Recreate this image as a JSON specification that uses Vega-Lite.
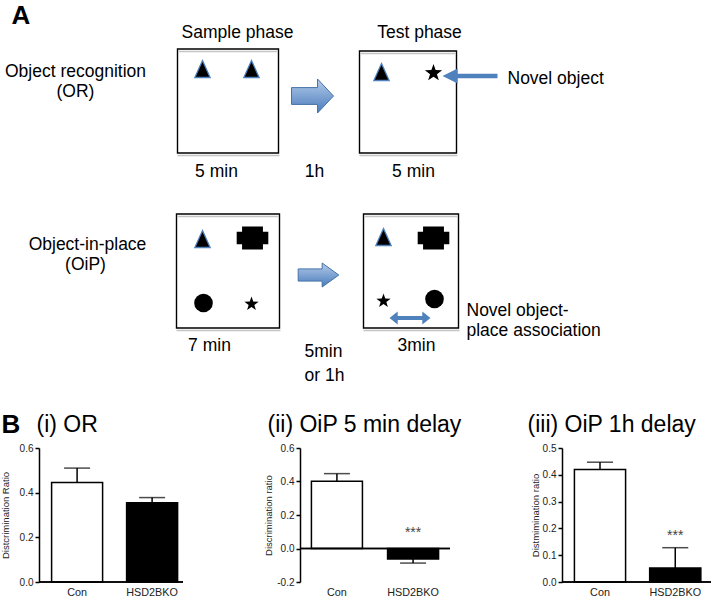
{
  "$schema": "https://vega.github.io/schema/vega-lite/v6.json",
  "padding": 0,
  "background": "white",
  "spacing": 0,
  "align": "none",
  "bounds": "full",
  "config": {
    "font": "Liberation Sans",
    "view": {"stroke": null},
    "axis": {
      "domainColor": "black", "domainWidth": 1.5, "tickColor": "black", "tickWidth": 1.5,
      "labelColor": "#222", "labelFontSize": 10, "labelFont": "Liberation Sans", "labelOverlap": false,
      "titleFontSize": 9.5, "titleFontWeight": "normal", "titleColor": "#222", "titleFont": "Liberation Sans",
      "grid": false
    },
    "axisX": {"labelFontSize": 10.8}
  },
  "datasets": {
    "boxes": [
      {"x": 177, "x2": 278, "y": 49, "y2": 153},
      {"x": 359, "x2": 456, "y": 51, "y2": 153},
      {"x": 176, "x2": 279, "y": 214, "y2": 328},
      {"x": 363, "x2": 458, "y": 214, "y2": 328}
    ],
    "shadows": [
      {"x": 178, "x2": 277, "y": 51.5},
      {"x": 177, "x2": 279, "y": 155.5},
      {"x": 360, "x2": 455, "y": 53.5},
      {"x": 359, "x2": 457, "y": 155.5},
      {"x": 177, "x2": 278, "y": 216.5},
      {"x": 176, "x2": 280, "y": 330.5},
      {"x": 364, "x2": 457, "y": 216.5},
      {"x": 363, "x2": 459, "y": 330.5}
    ],
    "objects": [
      {"obj": "triangle", "x": 202, "y": 69},
      {"obj": "triangle", "x": 251, "y": 69},
      {"obj": "triangle", "x": 381, "y": 72},
      {"obj": "triangle", "x": 202, "y": 239},
      {"obj": "triangle", "x": 383, "y": 237},
      {"obj": "star", "x": 433, "y": 73},
      {"obj": "starSmall", "x": 251, "y": 304},
      {"obj": "starSmall", "x": 383, "y": 301},
      {"obj": "cross", "x": 252, "y": 238},
      {"obj": "cross", "x": 433, "y": 238},
      {"obj": "circle", "x": 203, "y": 303},
      {"obj": "circle", "x": 434, "y": 299},
      {"obj": "doubleArrow", "x": 409.5, "y": 318},
      {"obj": "lineArrow", "x": 469.5, "y": 76},
      {"obj": "blockArrow1", "x": 312, "y": 96},
      {"obj": "blockArrow2", "x": 318, "y": 275}
    ],
    "centerTexts": [
      {"t": "Sample phase", "x": 237, "y": 37.5},
      {"t": "Test phase", "x": 419, "y": 38},
      {"t": "Object recognition", "x": 75, "y": 76.5},
      {"t": "(OR)", "x": 75, "y": 97},
      {"t": "5 min", "x": 216, "y": 177},
      {"t": "1h", "x": 314, "y": 177},
      {"t": "5 min", "x": 413, "y": 177},
      {"t": "Object-in-place", "x": 87, "y": 250},
      {"t": "(OiP)", "x": 85, "y": 270},
      {"t": "7 min", "x": 209, "y": 351},
      {"t": "5min", "x": 323, "y": 357},
      {"t": "or 1h", "x": 324, "y": 381},
      {"t": "3min", "x": 416, "y": 351}
    ],
    "leftTexts": [
      {"t": "Novel object", "x": 507, "y": 84},
      {"t": "Novel object-", "x": 466, "y": 316},
      {"t": "place association", "x": 466, "y": 336}
    ],
    "letters": [
      {"t": "A", "x": 11, "y": 24},
      {"t": "B", "x": 1, "y": 433}
    ],
    "panelTitles": [
      {"t": "(i)  OR", "x": 36, "y": 432},
      {"t": "(ii)  OiP 5 min delay", "x": 267, "y": 432},
      {"t": "(iii)  OiP 1h delay", "x": 527, "y": 432}
    ]
  },
  "vconcat": [
    {
      "width": 675.5,
      "height": 443,
      "encoding": {
        "x": {"field": "x", "type": "quantitative", "scale": {"domain": [38.5, 714], "nice": false, "zero": false}, "axis": null},
        "y": {"field": "y", "type": "quantitative", "scale": {"domain": [0, 443], "reverse": true, "nice": false, "zero": false}, "axis": null}
      },
      "layer": [
        {
          "data": {"name": "boxes"},
          "mark": {"type": "rect", "fill": "white", "stroke": "black", "strokeWidth": 1.4},
          "encoding": {"x2": {"field": "x2"}, "y2": {"field": "y2"}}
        },
        {
          "data": {"name": "shadows"},
          "mark": {"type": "rule", "stroke": "#c4c4c4", "strokeWidth": 1.5},
          "encoding": {"x2": {"field": "x2"}}
        },
        {
          "data": {"name": "objects"},
          "transform": [{"filter": "datum.obj == 'triangle'"}],
          "mark": {"type": "point", "filled": true, "opacity": 1, "fill": "black", "stroke": "#4f81bd", "strokeWidth": 1.3, "shape": "M0,-1L0.9,1L-0.9,1Z", "size": 289}
        },
        {
          "data": {"name": "objects"},
          "transform": [{"filter": "datum.obj == 'star'"}],
          "mark": {"type": "point", "filled": true, "opacity": 1, "fill": "black", "strokeWidth": 0, "shape": "M0,-1L0.235,-0.324L0.951,-0.309L0.38,0.124L0.588,0.809L0,0.4L-0.588,0.809L-0.38,0.124L-0.951,-0.309L-0.235,-0.324Z", "size": 330}
        },
        {
          "data": {"name": "objects"},
          "transform": [{"filter": "datum.obj == 'starSmall'"}],
          "mark": {"type": "point", "filled": true, "opacity": 1, "fill": "black", "strokeWidth": 0, "shape": "M0,-1L0.235,-0.324L0.951,-0.309L0.38,0.124L0.588,0.809L0,0.4L-0.588,0.809L-0.38,0.124L-0.951,-0.309L-0.235,-0.324Z", "size": 225}
        },
        {
          "data": {"name": "objects"},
          "transform": [{"filter": "datum.obj == 'cross'"}],
          "mark": {"type": "point", "filled": true, "opacity": 1, "fill": "black", "strokeWidth": 0, "shape": "M-0.66,-0.72L0.66,-0.72L0.66,-0.4L1,-0.4L1,0.4L0.66,0.4L0.66,0.72L-0.66,0.72L-0.66,0.4L-1,0.4L-1,-0.4L-0.66,-0.4Z", "size": 1000}
        },
        {
          "data": {"name": "objects"},
          "transform": [{"filter": "datum.obj == 'circle'"}],
          "mark": {"type": "point", "filled": true, "opacity": 1, "fill": "black", "strokeWidth": 0, "shape": "circle", "size": 346}
        },
        {
          "data": {"name": "objects"},
          "transform": [{"filter": "datum.obj == 'doubleArrow'"}],
          "mark": {"type": "point", "filled": true, "opacity": 1, "fill": "#4f81bd", "strokeWidth": 0, "shape": "M-1,0L-0.6,-0.32L-0.6,-0.1L0.6,-0.1L0.6,-0.32L1,0L0.6,0.32L0.6,0.1L-0.6,0.1L-0.6,0.32Z", "size": 1680}
        },
        {
          "data": {"name": "objects"},
          "transform": [{"filter": "datum.obj == 'lineArrow'"}],
          "mark": {"type": "point", "filled": true, "opacity": 1, "fill": "#4f81bd", "strokeWidth": 0, "shape": "M-1,0L-0.45,-0.27L-0.45,-0.08L1,-0.08L1,0.08L-0.45,0.08L-0.45,0.27Z", "size": 3025}
        },
        {
          "data": {"name": "objects"},
          "transform": [{"filter": "datum.obj == 'blockArrow1'"}],
          "mark": {"type": "point", "filled": true, "opacity": 1, "stroke": "#4472a8", "strokeWidth": 1,
            "fill": {"gradient": "linear", "x1": 0, "y1": 0, "x2": 0, "y2": 1, "stops": [{"offset": 0, "color": "#b4cbe9"}, {"offset": 1, "color": "#4a7cbc"}]},
            "shape": "M-1,-0.4L0.24,-0.4L0.24,-0.81L1,0L0.24,0.81L0.24,0.4L-1,0.4Z", "size": 1764}
        },
        {
          "data": {"name": "objects"},
          "transform": [{"filter": "datum.obj == 'blockArrow2'"}],
          "mark": {"type": "point", "filled": true, "opacity": 1, "stroke": "#4472a8", "strokeWidth": 1,
            "fill": {"gradient": "linear", "x1": 0, "y1": 0, "x2": 0, "y2": 1, "stops": [{"offset": 0, "color": "#b4cbe9"}, {"offset": 1, "color": "#4a7cbc"}]},
            "shape": "M-1,-0.3L0.18,-0.3L0.18,-0.59L1,0L0.18,0.59L0.18,0.3L-1,0.3Z", "size": 1650}
        },
        {
          "data": {"name": "centerTexts"},
          "mark": {"type": "text", "align": "center", "baseline": "alphabetic", "fontSize": 17.5, "color": "black"},
          "encoding": {"text": {"field": "t"}}
        },
        {
          "data": {"name": "leftTexts"},
          "mark": {"type": "text", "align": "left", "baseline": "alphabetic", "fontSize": 17.5, "color": "black"},
          "encoding": {"text": {"field": "t"}}
        },
        {
          "data": {"name": "letters"},
          "mark": {"type": "text", "align": "left", "baseline": "alphabetic", "fontSize": 26, "fontWeight": "bold", "color": "black"},
          "encoding": {"text": {"field": "t"}}
        },
        {
          "data": {"name": "panelTitles"},
          "mark": {"type": "text", "align": "left", "baseline": "alphabetic", "fontSize": 23, "color": "black"},
          "encoding": {"text": {"field": "t"}}
        }
      ]
    },
    {
      "spacing": 79,
      "align": "none",
      "bounds": "full",
      "hconcat": [
        {
          "width": 144,
          "height": 134,
          "data": {"values": [
            {"group": "Con", "value": 0.445, "errEnd": 0.51},
            {"group": "HSD2BKO", "value": 0.355, "errEnd": 0.378}
          ]},
          "layer": [
            {
              "mark": {"type": "bar", "stroke": "black", "strokeWidth": 1.5},
              "encoding": {
                "x": {"field": "group", "type": "nominal", "sort": null, "title": null,
                  "scale": {"paddingInner": 0.32, "paddingOuter": 0.12, "align": 0.7},
                  "axis": {"labelAngle": 0, "ticks": false, "domain": false, "labelPadding": 4}},
                "y": {"field": "value", "type": "quantitative", "title": "Distcrimination Ratio",
                  "scale": {"domain": [0, 0.6], "nice": false},
                  "axis": {"values": [0, 0.2, 0.4, 0.6], "tickCount": 10, "format": ".1f", "labelOverlap": false, "tickSize": 4, "minExtent": 24, "maxExtent": 24, "titlePadding": 5}},
                "fill": {"field": "group", "type": "nominal", "scale": {"domain": ["Con", "HSD2BKO"], "range": ["white", "black"]}, "legend": null}
              }
            },
            {
              "mark": {"type": "rule", "color": "black", "strokeWidth": 1.5},
              "encoding": {
                "x": {"field": "group", "type": "nominal", "sort": null, "title": null},
                "y": {"field": "value", "type": "quantitative", "title": "Distcrimination Ratio"}, "y2": {"field": "errEnd"}}
            },
            {
              "mark": {"type": "tick", "color": "black", "size": 26, "thickness": 1.5},
              "encoding": {
                "x": {"field": "group", "type": "nominal", "sort": null, "title": null},
                "y": {"field": "errEnd", "type": "quantitative", "title": "Distcrimination Ratio"}}
            },
            {
              "mark": {"type": "rule", "color": "black", "strokeWidth": 1.5},
              "encoding": {"y": {"datum": 0}}
            }
          ]
        },
        {
          "width": 150,
          "height": 134,
          "data": {"values": [
            {"group": "Con", "value": 0.402, "errEnd": 0.447, "sig": "", "sigY": 0.09},
            {"group": "HSD2BKO", "value": -0.063, "errEnd": -0.087, "sig": "***", "sigY": 0.09}
          ]},
          "layer": [
            {
              "mark": {"type": "bar", "stroke": "black", "strokeWidth": 1.5},
              "encoding": {
                "x": {"field": "group", "type": "nominal", "sort": null, "title": null,
                  "scale": {"paddingInner": 0.33, "paddingOuter": 0.15},
                  "axis": {"labelAngle": 0, "ticks": false, "domain": false, "labelPadding": 4}},
                "y": {"field": "value", "type": "quantitative", "title": "Discrimination ratio",
                  "scale": {"domain": [-0.2, 0.6], "nice": false},
                  "axis": {"values": [-0.2, 0, 0.2, 0.4, 0.6], "tickCount": 10, "format": ".1f", "labelOverlap": false, "labelExpr": "replace(datum.label, '\u2212', '-')", "tickSize": 4, "minExtent": 23, "maxExtent": 23, "titlePadding": 4}},
                "fill": {"field": "group", "type": "nominal", "scale": {"domain": ["Con", "HSD2BKO"], "range": ["white", "black"]}, "legend": null}
              }
            },
            {
              "mark": {"type": "rule", "color": "black", "strokeWidth": 1.5},
              "encoding": {
                "x": {"field": "group", "type": "nominal", "sort": null, "title": null},
                "y": {"field": "value", "type": "quantitative", "title": "Discrimination ratio"}, "y2": {"field": "errEnd"}}
            },
            {
              "mark": {"type": "tick", "color": "black", "size": 26, "thickness": 1.5},
              "encoding": {
                "x": {"field": "group", "type": "nominal", "sort": null, "title": null},
                "y": {"field": "errEnd", "type": "quantitative", "title": "Discrimination ratio"}}
            },
            {
              "mark": {"type": "rule", "color": "black", "strokeWidth": 1.5},
              "encoding": {"y": {"datum": 0}}
            },
            {
              "transform": [{"filter": "datum.sig != ''"}],
              "mark": {"type": "text", "fontSize": 14, "color": "#444", "baseline": "middle"},
              "encoding": {
                "x": {"field": "group", "type": "nominal", "sort": null, "title": null},
                "y": {"field": "sigY", "type": "quantitative", "title": "Discrimination ratio"}, "text": {"field": "sig"}}
            }
          ]
        },
        {
          "width": 149,
          "height": 134,
          "data": {"values": [
            {"group": "Con", "value": 0.42, "errEnd": 0.447, "sig": "", "sigY": 0.172},
            {"group": "HSD2BKO", "value": 0.052, "errEnd": 0.128, "sig": "***", "sigY": 0.172}
          ]},
          "layer": [
            {
              "mark": {"type": "bar", "stroke": "black", "strokeWidth": 1.5},
              "encoding": {
                "x": {"field": "group", "type": "nominal", "sort": null, "title": null,
                  "scale": {"paddingInner": 0.32, "paddingOuter": 0.15, "align": 0.55},
                  "axis": {"labelAngle": 0, "ticks": false, "domain": false, "labelPadding": 4}},
                "y": {"field": "value", "type": "quantitative", "title": "Distmimination ratio",
                  "scale": {"domain": [0, 0.5], "nice": false},
                  "axis": {"values": [0, 0.1, 0.2, 0.3, 0.4, 0.5], "tickCount": 10, "format": ".1f", "labelOverlap": false, "tickSize": 4, "minExtent": 20, "maxExtent": 20, "titlePadding": 2}},
                "fill": {"field": "group", "type": "nominal", "scale": {"domain": ["Con", "HSD2BKO"], "range": ["white", "black"]}, "legend": null}
              }
            },
            {
              "mark": {"type": "rule", "color": "black", "strokeWidth": 1.5},
              "encoding": {
                "x": {"field": "group", "type": "nominal", "sort": null, "title": null},
                "y": {"field": "value", "type": "quantitative", "title": "Distmimination ratio"}, "y2": {"field": "errEnd"}}
            },
            {
              "mark": {"type": "tick", "color": "black", "size": 26, "thickness": 1.5},
              "encoding": {
                "x": {"field": "group", "type": "nominal", "sort": null, "title": null},
                "y": {"field": "errEnd", "type": "quantitative", "title": "Distmimination ratio"}}
            },
            {
              "mark": {"type": "rule", "color": "black", "strokeWidth": 1.5},
              "encoding": {"y": {"datum": 0}}
            },
            {
              "transform": [{"filter": "datum.sig != ''"}],
              "mark": {"type": "text", "fontSize": 14, "color": "#444", "baseline": "middle"},
              "encoding": {
                "x": {"field": "group", "type": "nominal", "sort": null, "title": null},
                "y": {"field": "sigY", "type": "quantitative", "title": "Distmimination ratio"}, "text": {"field": "sig"}}
            }
          ]
        }
      ]
    }
  ]
}
